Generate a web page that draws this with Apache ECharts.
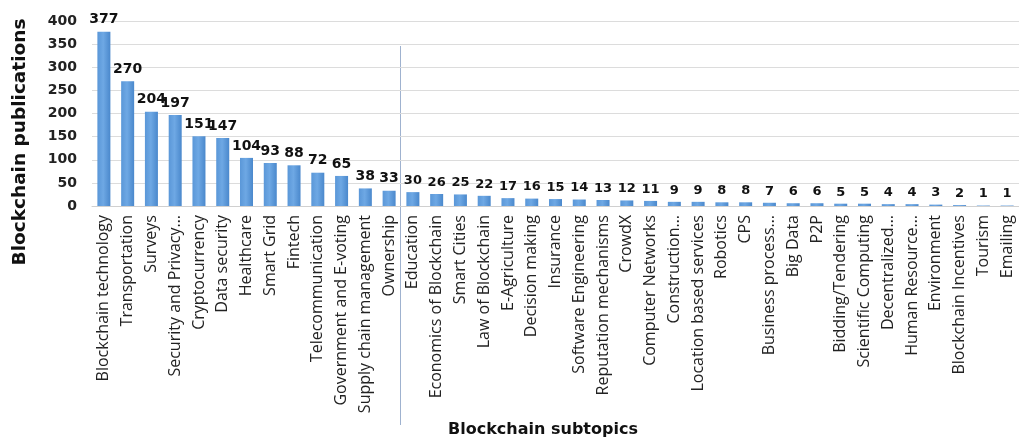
<!DOCTYPE html>
<html>
<head>
<meta charset="utf-8">
<script src="https://cdn.jsdelivr.net/npm/echarts@6/dist/echarts.min.js"></script>
<style>
  html, body { margin: 0; padding: 0; background: #fff; }
  #chart { width: 1019px; height: 443px; }
</style>
</head>
<body>
<div id="chart"></div>
<script>
// Publication counts per blockchain subtopic
const categories = [
  'Blockchain technology', 'Transportation', 'Surveys', 'Security and Privacy…',
  'Cryptocurrency', 'Data security', 'Healthcare', 'Smart Grid', 'Fintech',
  'Telecommunication', 'Government and E-voting', 'Supply chain management', 'Ownership',
  'Education', 'Economics of Blockchain', 'Smart Cities', 'Law of Blockchain',
  'E-Agriculture', 'Decision making', 'Insurance', 'Software Engineering',
  'Reputation mechanisms', 'CrowdX', 'Computer Networks', 'Construction…',
  'Location based services', 'Robotics', 'CPS', 'Business process…', 'Big Data',
  'P2P', 'Bidding/Tendering', 'Scientific Computing', 'Decentralized…',
  'Human Resource…', 'Environment', 'Blockchain Incentives', 'Tourism', 'Emailing'
];
const publications = [
  377, 270, 204, 197, 151, 147, 104, 93, 88, 72, 65, 38, 33,
  30, 26, 25, 22, 17, 16, 15, 14, 13, 12, 11, 9, 9, 8, 8, 7, 6, 6, 5, 5, 4, 4, 3, 2, 1, 1
];
// first block of major topics, the rest are minor topics
const majorCount = 13;
const yTicks = { min: 0, max: 400, interval: 50 };

const majorCats = categories.slice(0, majorCount);
const majorVals = publications.slice(0, majorCount);
const minorCats = categories.slice(majorCount);
const minorVals = publications.slice(majorCount);

// plot area layout
const W = 1019;
const plotTop = 21, plotBottom = 206, plotLeft = 92, splitX = 401;

const barColor = {
  type: 'linear', x: 0, y: 0, x2: 1, y2: 0,
  colorStops: [
    { offset: 0, color: '#5a97d8' },
    { offset: 0.45, color: '#6ea8e4' },
    { offset: 1, color: '#4a88cc' }
  ]
};

const gridLine = { lineStyle: { color: '#dcdcdc', width: 1 } };
const catLabel = {
  rotate: 90, interval: 0, margin: 9,
  fontFamily: 'Open Sans', fontSize: 16, color: '#222'
};

const chart = echarts.init(document.getElementById('chart'), null, { renderer: 'canvas' });
chart.setOption({
  animation: false,
  backgroundColor: '#ffffff',
  grid: [
    { left: plotLeft, top: plotTop, width: splitX - plotLeft, height: plotBottom - plotTop },
    { left: splitX, top: plotTop, width: W - splitX, height: plotBottom - plotTop }
  ],
  xAxis: [
    { type: 'category', gridIndex: 0, data: majorCats,
      axisLine: { lineStyle: { color: '#d0d0d0' } }, axisTick: { show: false },
      axisLabel: catLabel },
    { type: 'category', gridIndex: 1, data: minorCats,
      axisLine: { lineStyle: { color: '#d0d0d0' } }, axisTick: { show: false },
      axisLabel: catLabel }
  ],
  yAxis: [
    { type: 'value', gridIndex: 0, min: yTicks.min, max: yTicks.max, interval: yTicks.interval,
      axisLine: { show: false }, axisTick: { show: false }, splitLine: gridLine,
      axisLabel: { margin: 15, fontFamily: 'DejaVu Sans', fontWeight: 'bold', fontSize: 14, color: '#222' } },
    { type: 'value', gridIndex: 1, min: yTicks.min, max: yTicks.max, interval: yTicks.interval,
      axisLine: { show: false }, axisTick: { show: false }, splitLine: gridLine,
      axisLabel: { show: false } }
  ],
  series: [
    { type: 'bar', xAxisIndex: 0, yAxisIndex: 0, data: majorVals, barWidth: 13,
      itemStyle: { color: barColor },
      label: { show: true, position: 'top', distance: 5,
        fontFamily: 'DejaVu Sans', fontWeight: 'bold', fontSize: 14, color: '#111' } },
    { type: 'bar', xAxisIndex: 1, yAxisIndex: 1, data: minorVals, barWidth: 13,
      itemStyle: { color: barColor },
      label: { show: true, position: 'top', distance: 5,
        fontFamily: 'DejaVu Sans', fontWeight: 'bold', fontSize: 13, color: '#111' } }
  ],
  graphic: [
    // separator between major and minor topics
    { type: 'line', silent: true,
      shape: { x1: splitX - 0.5, y1: 46, x2: splitX - 0.5, y2: 425 },
      style: { stroke: '#9fb2cf', lineWidth: 1 } },
    { type: 'text', rotation: Math.PI / 2, x: 20, y: 142,
      style: { text: 'Blockchain publications', fontFamily: 'DejaVu Sans', fontWeight: 'bold',
        fontSize: 18.5, fill: '#111', textAlign: 'center', textVerticalAlign: 'middle' } },
    { type: 'text', x: 543, y: 430,
      style: { text: 'Blockchain subtopics', fontFamily: 'DejaVu Sans', fontWeight: 'bold',
        fontSize: 16, fill: '#111', textAlign: 'center', textVerticalAlign: 'middle' } }
  ]
});
</script>
</body>
</html>
